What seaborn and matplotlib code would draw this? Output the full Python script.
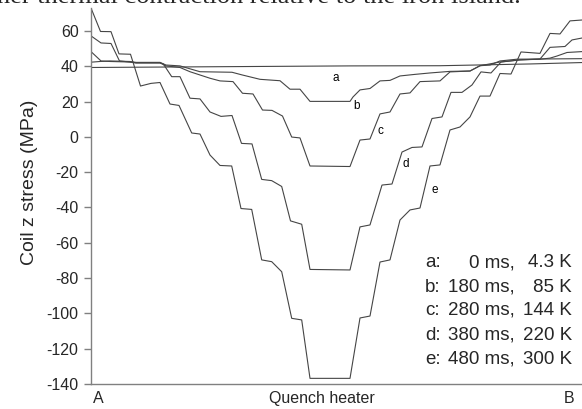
import matplotlib
matplotlib.use("Agg")
import numpy as np
import pandas as pd
import seaborn as sns
import matplotlib.pyplot as plt

# position along the coil (arbitrary units, A=0 ... B=491) and stress (MPa)
pos_a = [0, 259, 349, 439, 491]
stress_a = [39.3, 40.2, 40.3, 41.3, 42.1]

pos_b = [0, 9, 19, 39, 45, 69, 75, 89, 109, 141, 151, 169, 189, 199, 209, 219, 259,
         262, 269, 279, 289, 299, 309, 324, 339, 359, 379, 389, 399, 409, 426, 491]
stress_b = [42.3, 42.7, 43.0, 42.7, 42.2, 42.2, 40.7, 40.2, 36.9, 36.6, 35.1, 32.6, 31.8, 27.0, 27.0, 20.1, 20.1,
            22.6, 26.6, 27.4, 31.7, 32.0, 34.5, 35.4, 36.2, 37.1, 37.3, 40.3, 40.7, 43.0, 44.0, 44.3]

pos_c = [0, 10, 19, 39, 45, 69, 75, 89, 99, 119, 129, 142, 151.5, 162, 171.5, 181, 191.5, 200.7, 209, 219, 259,
         269, 279, 289, 299, 309, 319, 329, 349, 359, 379, 389, 409, 429, 449, 459, 466, 476, 491]
stress_c = [48.3, 43.0, 42.7, 42.4, 41.9, 41.9, 40.2, 39.3, 36.9, 33.2, 31.7, 31.3, 24.7, 24.3, 15.2, 15.0, 11.8, -0.1, -0.6, -16.5, -16.8,
            -1.8, -1.2, 13.0, 14.1, 24.3, 24.9, 31.3, 31.7, 36.8, 37.3, 40.3, 42.4, 43.6, 44.0, 44.6, 45.8, 47.8, 48.3]

pos_d = [0, 10, 20, 28.5, 39, 45, 69, 72.3, 80.7, 89, 99, 109, 119, 130, 141, 150.5, 161, 170.7, 180.7, 190.7, 199.5, 210.7, 219, 259,
         269, 279, 291, 301, 311, 321, 331, 341, 351, 360, 371, 381, 390, 400, 410, 429, 449, 459, 474, 481, 491]
stress_d = [57.2, 53.2, 52.9, 43.0, 42.4, 41.9, 41.9, 41.3, 34.1, 34.1, 21.9, 21.5, 14.1, 11.6, 12.1, -3.7, -4.0, -24.1, -24.8, -28.1, -47.6, -49.5, -75.1, -75.4,
            -51.0, -49.9, -27.3, -26.7, -8.6, -6.0, -5.7, 10.4, 11.3, 25.2, 25.2, 29.4, 36.8, 36.2, 42.4, 43.6, 44.1, 50.7, 51.2, 54.9, 56.0]

pos_e = [0, 9.5, 20, 28, 39.5, 49.5, 60, 69, 79, 88, 100.7, 109, 119, 129, 140.7, 150, 160.7, 170.7, 180.7, 190.7, 200.7, 210.7, 219, 259,
         269, 279, 289, 299, 309, 319, 329, 339, 349, 359, 369, 379, 389, 399, 409, 420, 430, 449, 459, 469, 479, 491]
stress_e = [73.0, 59.7, 59.6, 47.0, 46.8, 28.8, 30.3, 30.8, 18.6, 17.8, 2.2, 1.6, -10.3, -16.2, -16.5, -40.6, -41.1, -69.7, -70.7, -76.4, -102.8, -103.7, -136.8, -136.8,
            -102.6, -101.5, -70.9, -69.7, -47.1, -41.4, -40.3, -16.5, -15.9, 3.9, 5.6, 11.3, 23.1, 23.1, 35.9, 35.6, 48.1, 47.3, 58.6, 58.3, 65.7, 66.2]

curve_names = ["a", "b", "c", "d", "e"]
label_pos = [245, 266, 289, 315, 344]
label_stress = [33.4, 17.5, 3.3, -15.4, -30.1]

legend_letters = ["a:", "b:", "c:", "d:", "e:"]
legend_times = ["0 ms,", "180 ms,", "280 ms,", "380 ms,", "480 ms,"]
legend_temps = ["4.3 K", "85 K", "144 K", "220 K", "300 K"]
legend_stress = [-74.0, -87.6, -100.7, -114.8, -128.4]

yticks = list(range(-140, 61, 20))
xtick_pos = [7, 231, 478]
xtick_labels = ["A", "Quench heater", "B"]

frames = []
for name, p, s in zip(curve_names,
                      [pos_a, pos_b, pos_c, pos_d, pos_e],
                      [stress_a, stress_b, stress_c, stress_d, stress_e]):
    frames.append(pd.DataFrame({"pos": p, "stress": s, "curve": name}))
df = pd.concat(frames, ignore_index=True)

sns.set_theme(style="white")
plt.rcParams["font.family"] = ["Liberation Sans", "DejaVu Sans"]
plt.rcParams["axes.unicode_minus"] = False

fig = plt.figure(figsize=(5.82, 4.09), dpi=100)
ax = fig.add_axes([91 / 582, 25 / 409, 491 / 582, 376 / 409])

line_color = "#454545"
sns.lineplot(data=df, x="pos", y="stress", hue="curve",
             palette={n: line_color for n in curve_names},
             sort=False, estimator=None, legend=False, linewidth=0.8, ax=ax)

ax.set_xlim(0, 491)
ax.set_ylim(-140, 73)
ax.set_yticks(yticks)
ax.set_yticklabels([str(v) for v in yticks])
ax.set_xticks(xtick_pos)
ax.set_xticklabels(xtick_labels)
ax.tick_params(axis="y", direction="out", length=5, width=1, color="#808080",
               labelsize=11.5, pad=4, left=True)
ax.tick_params(axis="x", length=0, labelsize=11.5, pad=5)
ax.set_xlabel("")
ax.set_ylabel("Coil z stress (MPa)", fontsize=14)
ax.yaxis.set_label_coords(-0.107, 0.536)

for side in ["top", "right"]:
    ax.spines[side].set_visible(False)
for side in ["left", "bottom"]:
    ax.spines[side].set_color("#808080")
    ax.spines[side].set_linewidth(1.0)

for n, x, y in zip(curve_names, label_pos, label_stress):
    ax.text(x, y, n, fontsize=8.5, ha="center", va="center", color="black")

for l, t, k, y in zip(legend_letters, legend_times, legend_temps, legend_stress):
    ax.text(334, y, l, fontsize=13.5, ha="left", va="baseline")
    ax.text(424, y, t, fontsize=13.5, ha="right", va="baseline")
    ax.text(481, y, k, fontsize=13.5, ha="right", va="baseline")

fig.text(-0.005, 1 - 3 / 409, "her thermal contraction relative to the iron island.",
         family="Liberation Serif", fontsize=19, va="baseline", ha="left")

fig.savefig("out.png", dpi=100)
